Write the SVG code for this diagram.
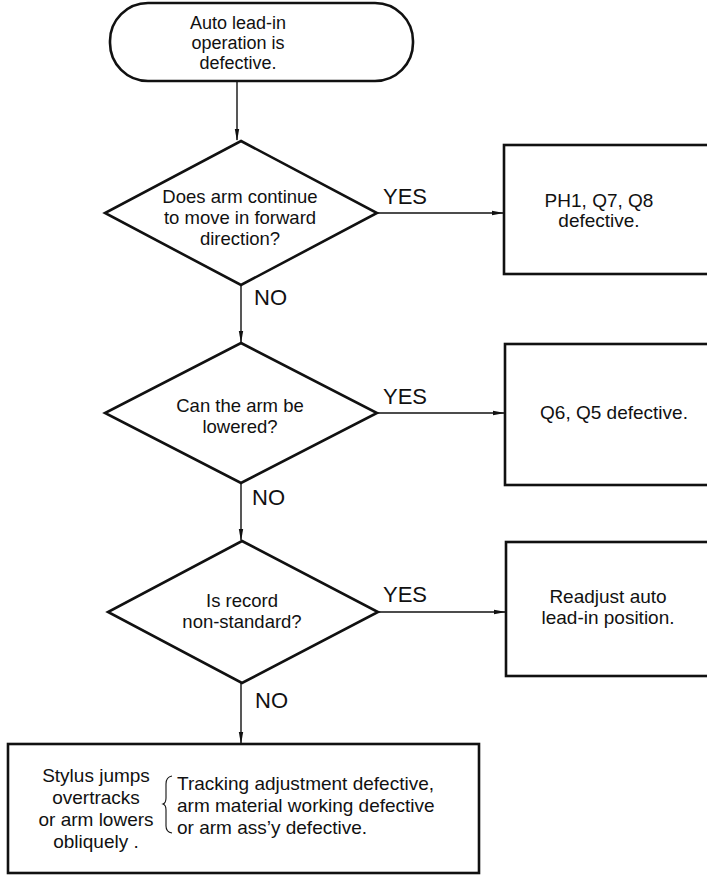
<svg xmlns="http://www.w3.org/2000/svg" width="707" height="876" viewBox="0 0 707 876">
<defs>
<marker id="ah" markerWidth="12" markerHeight="6" refX="11" refY="3" orient="auto" markerUnits="userSpaceOnUse">
<path d="M0,0.8 L12,3 L0,5.2 Z" fill="#111"/>
</marker>
<style>
.sh{fill:#fff;stroke:#111;stroke-width:2.6}
.cn{fill:none;stroke:#111;stroke-width:1.4}
.t{font-family:"Liberation Sans",Arial,sans-serif;fill:#111;font-size:19px}
.s{font-size:18px}
.d{font-size:18.5px}
.m{text-anchor:middle}
.lb{font-size:22px}
</style>
</defs>
<rect width="707" height="876" fill="#fff"/>
<g id="connectors">
<line class="cn" x1="237" y1="81" x2="237" y2="140" marker-end="url(#ah)"/>
<line class="cn" x1="377" y1="213" x2="503" y2="213" marker-end="url(#ah)"/>
<line class="cn" x1="241" y1="285" x2="241" y2="342" marker-end="url(#ah)"/>
<line class="cn" x1="377" y1="413" x2="504" y2="413" marker-end="url(#ah)"/>
<line class="cn" x1="241" y1="483" x2="241" y2="540" marker-end="url(#ah)"/>
<line class="cn" x1="378" y1="612" x2="505" y2="612" marker-end="url(#ah)"/>
<line class="cn" x1="241" y1="683" x2="241" y2="743" marker-end="url(#ah)"/>
<text class="t lb" x="383" y="204">YES</text>
<text class="t lb" x="254" y="305">NO</text>
<text class="t lb" x="383" y="404">YES</text>
<text class="t lb" x="252" y="505">NO</text>
<text class="t lb" x="383" y="602">YES</text>
<text class="t lb" x="255" y="708">NO</text>
</g>
<g id="start">
<rect class="sh" x="110" y="3" width="303" height="78" rx="38" ry="38"/>
<text class="t s m" x="238" y="29">Auto lead-in</text>
<text class="t s m" x="238" y="49">operation is</text>
<text class="t s m" x="238" y="69">defective.</text>
</g>
<g id="q1">
<polygon class="sh" points="241,141 377,213 241,285 105,213"/>
<text class="t d m" x="240" y="203">Does arm continue</text>
<text class="t d m" x="240" y="224">to move in forward</text>
<text class="t d m" x="240" y="245">direction?</text>
</g>
<g id="r1">
<rect class="sh" x="504" y="145" width="220" height="129"/>
<text class="t m" x="599" y="207">PH1, Q7, Q8</text>
<text class="t m" x="599" y="227">defective.</text>
</g>
<g id="q2">
<polygon class="sh" points="241,343 377,413 241,483 105,413"/>
<text class="t d m" x="240" y="412">Can the arm be</text>
<text class="t d m" x="240" y="433">lowered?</text>
</g>
<g id="r2">
<rect class="sh" x="505" y="344" width="220" height="141"/>
<text class="t m" x="614" y="419">Q6, Q5 defective.</text>
</g>
<g id="q3">
<polygon class="sh" points="242,541 378,612 242,683 108,612"/>
<text class="t d m" x="242" y="607">Is record</text>
<text class="t d m" x="242" y="628">non-standard?</text>
</g>
<g id="r3">
<rect class="sh" x="506" y="542" width="220" height="134"/>
<text class="t m" x="608" y="603">Readjust auto</text>
<text class="t m" x="608" y="624">lead-in position.</text>
</g>
<g id="result">
<rect class="sh" x="8" y="744" width="471" height="129"/>
<text class="t m" x="96" y="782">Stylus jumps</text>
<text class="t m" x="96" y="804">overtracks</text>
<text class="t m" x="96" y="826">or arm lowers</text>
<text class="t m" x="96" y="848">obliquely .</text>
<path d="M172,776 Q166,777 166,784 L166,798 Q166,803 163,804 Q166,805 166,810 L166,826 Q166,832 172,833" fill="none" stroke="#111" stroke-width="1.1"/>
<text class="t" x="177" y="790">Tracking adjustment defective,</text>
<text class="t" x="177" y="812">arm material working defective</text>
<text class="t" x="177" y="834">or arm ass’y defective.</text>
</g>
</svg>
